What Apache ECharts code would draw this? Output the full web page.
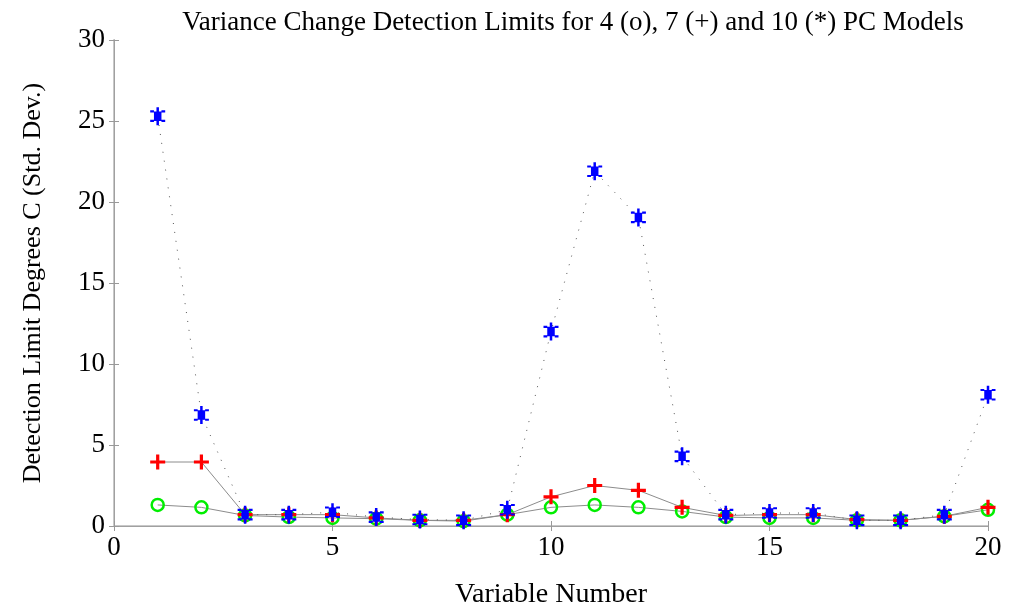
<!DOCTYPE html>
<html>
<head>
<meta charset="utf-8">
<script src="https://cdn.jsdelivr.net/npm/echarts@6/dist/echarts.min.js"></script>
<style>html,body{margin:0;padding:0;background:#fff}#c{width:1009px;height:608px}</style>
</head>
<body>
<div id="c"></div>
<script>
const variables = [1,2,3,4,5,6,7,8,9,10,11,12,13,14,15,16,17,18,19,20];
const pc4 = [1.3,1.15,0.65,0.55,0.5,0.45,0.35,0.3,0.7,1.15,1.3,1.15,0.9,0.55,0.5,0.5,0.35,0.35,0.6,1.0];
const pc7 = [3.95,3.95,0.7,0.7,0.7,0.5,0.35,0.35,0.7,1.8,2.5,2.2,1.15,0.65,0.7,0.7,0.4,0.35,0.6,1.15];
const pc10 = [25.3,6.85,0.7,0.7,0.85,0.55,0.4,0.35,1.0,12.0,21.9,19.05,4.3,0.7,0.8,0.8,0.35,0.35,0.7,8.1];
const xTicks = [0,5,10,15,20];
const yTicks = [0,5,10,15,20,25,30];

const serif = "'Liberation Serif','DejaVu Serif',serif";
const pair = (ys) => variables.map((v,i)=>[v, ys[i]]);
const chart = echarts.init(document.getElementById('c'), null, {renderer:'canvas'});
const starPath = 'path://M6,0H8V4H6Z M4,4H10V13H4Z M6,13H8V17H6Z M1,3H4V5H1Z M10,3H13V5H10Z M1,12H4V14H1Z M10,12H13V14H10Z';
const plusPath = 'path://M0,5.5H14V8.5H0Z M5.5,0H8.5V14H5.5Z';

chart.setOption({
  animation:false,
  backgroundColor:'#fff',
  title:{text:'Variance Change Detection Limits for 4 (o), 7 (+) and 10 (*) PC Models', left:568, top:4, textAlign:'center',
    textStyle:{fontFamily:serif, fontWeight:'normal', fontSize:27, color:'#000'}},
  grid:{left:114, right:21, top:40, bottom:82, containLabel:false, outerBoundsMode:'none'},
  xAxis:[{type:'value', min:0, max:20, interval:5, position:'bottom',
    name:'Variable Number', nameLocation:'middle', nameGap:55,
    nameTextStyle:{fontFamily:serif, fontSize:28, color:'#000'},
    axisLine:{lineStyle:{color:'#c8c8c8', width:2}},
    axisTick:{inside:true, length:5, lineStyle:{color:'#999'}},
    axisLabel:{fontFamily:serif, fontSize:27, color:'#000', margin:8, formatter:(v)=>xTicks.includes(v)?String(v):''},
    splitLine:{show:false}},
   {type:'value', min:0, max:20, interval:5, position:'top',
    axisLine:{show:true, lineStyle:{color:'#a0a0a0', width:1}},
    axisTick:{inside:true, length:5, lineStyle:{color:'#999'}},
    axisLabel:{show:false}, splitLine:{show:false}}],
  yAxis:[{type:'value', min:0, max:30, interval:5, position:'left',
    name:'Detection Limit Degrees C (Std. Dev.)', nameLocation:'middle', nameGap:68,
    nameTextStyle:{fontFamily:serif, fontSize:26, color:'#000'},
    axisLine:{show:true, lineStyle:{color:'#c8c8c8', width:2}},
    axisTick:{show:true, inside:true, length:5, lineStyle:{color:'#999'}},
    axisLabel:{fontFamily:serif, fontSize:27, color:'#000', margin:9, formatter:(v)=>yTicks.includes(v)?String(v):''},
    splitLine:{show:false}},
   {type:'value', min:0, max:30, interval:5, position:'right',
    axisLine:{show:true, lineStyle:{color:'#a0a0a0', width:1}},
    axisTick:{show:true, inside:true, length:5, lineStyle:{color:'#999'}},
    axisLabel:{show:false}, splitLine:{show:false}}],
  series:[
    {name:'4 PC', type:'line', data:pair(pc4), symbol:'circle', symbolSize:12,
      lineStyle:{color:'#8c8c8c', width:1},
      itemStyle:{color:'rgba(0,0,0,0)', borderColor:'#00ee00', borderWidth:2.5}, z:2},
    {name:'7 PC', type:'line', data:pair(pc7), symbol:plusPath, symbolSize:15,
      lineStyle:{color:'#8c8c8c', width:1},
      itemStyle:{color:'#ff0000', borderWidth:0}, z:3},
    {name:'10 PC', type:'line', data:pair(pc10), symbol:starPath, symbolSize:[15,18],
      lineStyle:{color:'#555', width:1, type:[1,8]},
      itemStyle:{color:'#0000ff', borderWidth:0}, z:4}
  ]
});
</script>
</body>
</html>
